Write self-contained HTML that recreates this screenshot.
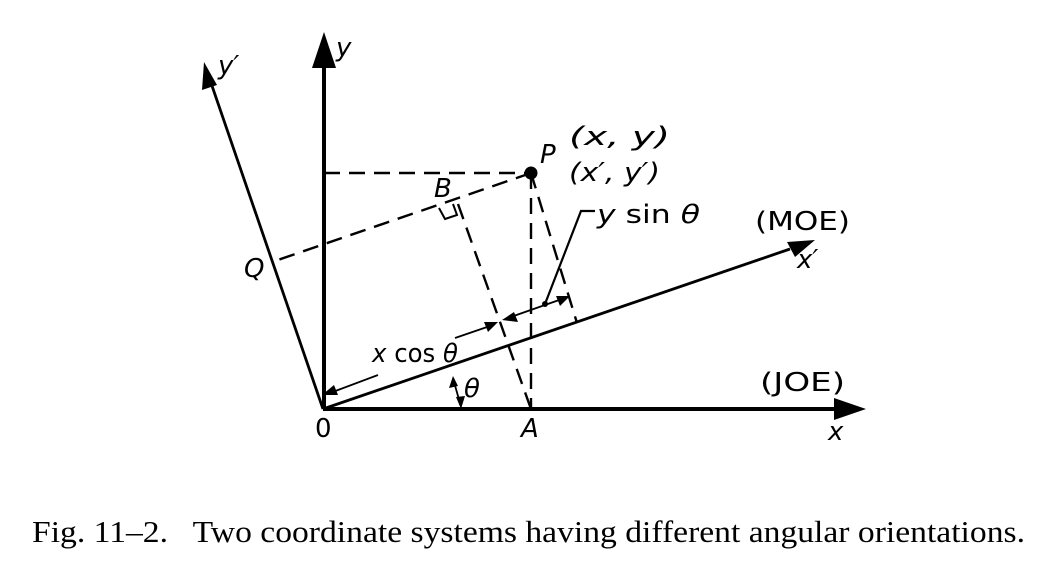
<!DOCTYPE html>
<html><head><meta charset="utf-8"><style>
html,body{margin:0;padding:0;background:#fff;}
svg{display:block;}
.l{font-family:"DejaVu Sans","Liberation Sans",sans-serif;font-size:26px;fill:#000;}
.i{font-style:italic;}
.cap{font-family:"Liberation Serif",serif;font-size:31px;fill:#000;}
</style></head><body>
<svg width="1052" height="586" viewBox="0 0 1052 586" xmlns="http://www.w3.org/2000/svg">
<g stroke="#000" fill="none">
<line x1="323" y1="409" x2="838" y2="409" stroke-width="4"/>
<line x1="324" y1="409" x2="324" y2="66" stroke-width="4"/>
<line x1="323" y1="409" x2="790" y2="249" stroke-width="2.8"/>
<line x1="323" y1="409" x2="210" y2="80" stroke-width="2.8"/>
<g stroke-width="2.4" stroke-dasharray="16,9">
<line x1="324" y1="173" x2="531" y2="173"/>
<line x1="531" y1="173" x2="272" y2="262"/>
<line x1="531" y1="173" x2="531" y2="409"/>
<line x1="531" y1="173" x2="577" y2="323"/>
<line x1="458" y1="204" x2="531" y2="409"/>
</g>
<path d="M439 208 L445 219 L457 215 L453 204" stroke-width="2"/>
<line x1="330" y1="393" x2="378" y2="375" stroke-width="1.8"/>
<line x1="455" y1="338" x2="490" y2="326" stroke-width="1.8"/>
<line x1="508" y1="318" x2="562" y2="299" stroke-width="1.8"/>
<polyline points="545,304 581,211 595,211" stroke-width="2.2"/>
<line x1="454" y1="382" x2="460" y2="403" stroke-width="1.8"/>
</g>
<g fill="#000">
<polygon points="866,409 834,398 834,420"/>
<polygon points="324,32 312,68 336,68"/>
<polygon points="815,240 787,242 795,257"/>
<polygon points="204,62 202,90 217,85"/>
<circle cx="531" cy="173" r="6.5"/>
<circle cx="545" cy="304" r="3"/>
<polygon points="322,395 334,385 338,395"/>
<polygon points="498,322 484,322 488,332"/>
<polygon points="502,320 514,312 518,322"/>
<polygon points="570,296 556,296 560,306"/>
<polygon points="453,376 449,388 458,386"/>
<polygon points="461,409 456,397 465,396"/>
</g>
<text class="l i" x="336" y="56">y</text>
<text class="l i" x="218" y="74">y′</text>
<text class="l i" x="540" y="163" font-size="30">P</text>
<text class="l i" x="569" y="145" textLength="101" lengthAdjust="spacingAndGlyphs">(x, y)</text>
<text class="l i" x="569" y="181" textLength="91" lengthAdjust="spacingAndGlyphs">(x′, y′)</text>
<text class="l i" x="434" y="197" font-size="28">B</text>
<text class="l i" x="244" y="277" font-size="28">Q</text>
<text class="l" x="597" y="223" textLength="103" lengthAdjust="spacingAndGlyphs"><tspan class="i">y</tspan> sin <tspan class="i">θ</tspan></text>
<text class="l" x="755" y="230" textLength="95" lengthAdjust="spacingAndGlyphs">(MOE)</text>
<text class="l i" x="797" y="268">x′</text>
<text class="l" x="372" y="362" textLength="86" lengthAdjust="spacingAndGlyphs"><tspan class="i">x</tspan> cos <tspan class="i">θ</tspan></text>
<text class="l i" x="464" y="397">θ</text>
<text class="l" x="760" y="391" textLength="85" lengthAdjust="spacingAndGlyphs">(JOE)</text>
<text class="l" x="315" y="437">0</text>
<text class="l i" x="521" y="437">A</text>
<text class="l i" x="828" y="440">x</text>
<text class="cap" x="32" y="542" textLength="993" lengthAdjust="spacingAndGlyphs" xml:space="preserve">Fig. 11–2.   Two coordinate systems having different angular orientations.</text>
</svg>
</body></html>
